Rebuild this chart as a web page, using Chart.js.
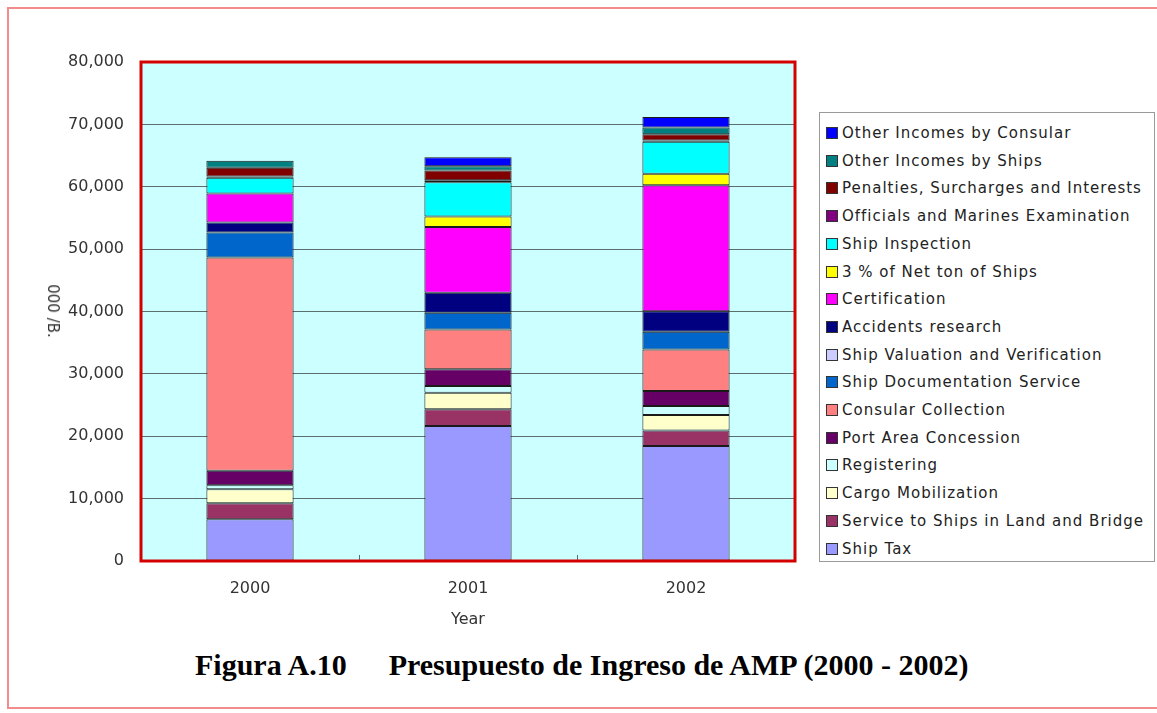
<!DOCTYPE html>
<html>
<head>
<meta charset="utf-8">
<script src="https://cdn.jsdelivr.net/npm/chart.js@4.4.1/dist/chart.umd.min.js"></script>
<style>
  html, body { margin: 0; padding: 0; background: #fff; }
  body { width: 1157px; height: 713px; position: relative; overflow: hidden; }
  #frame { position: absolute; left: 7px; top: 7px; width: 1160px; height: 702px;
           border: 2px solid #f28c8c; box-sizing: border-box; }
  #wrap { position: absolute; left: 0; top: 0; width: 1157px; height: 640px; }
  #ytitle { position: absolute; left: 53px; top: 311px; transform: translate(-50%, -50%) rotate(90deg);
            font: 15px "DejaVu Sans"; color: #333; white-space: nowrap; }
  #legend { position: absolute; left: 819px; top: 112px; width: 336px; height: 450px;
            border: 1px solid #9a9a9a; box-sizing: border-box; background: #fff; }
  .item { position: absolute; left: 6px; height: 20px; font: 15px "DejaVu Sans"; color: #222;
          letter-spacing: 1px; white-space: nowrap; line-height: 20px; }
  .item span.box { display: inline-block; width: 10px; height: 10px; border: 1px solid #333;
                   margin-right: 4px; vertical-align: -1px; }
  #caption { position: absolute; left: 195px; top: 648px; font: bold 30px "Liberation Serif"; color: #000;
             white-space: nowrap; }
  #caption .gap { display: inline-block; width: 42px; }
</style>
</head>
<body>
<div id="frame"></div>
<div id="wrap"><canvas id="chart"></canvas></div>
<div id="ytitle">000 /B.</div>
<div id="legend"></div>
<div id="caption">Figura A.10<span class="gap"></span>Presupuesto de Ingreso de AMP (2000 - 2002)</div>
<script>
// DATA (000 B/.)
const years = ["2000", "2001", "2002"];
const yTicks = [0, 10000, 20000, 30000, 40000, 50000, 60000, 70000, 80000];

const shipTax          = [6700, 21650, 18430];
const serviceToShips   = [2550, 2670, 2510];
const cargoMobil       = [2250, 2670, 2460];
const registering      = [650, 1070, 1440];
const portArea         = [2300, 2670, 2400];
const consular         = [34200, 6400, 6680];
const shipDocs         = [4000, 2670, 2830];
const shipValuation    = [0, 0, 0];
const accidents        = [1600, 3200, 3310];
const certification    = [4650, 10530, 20200];
const netTon           = [0, 1700, 1820];
const shipInspection   = [2550, 5500, 5130];
const officials        = [200, 300, 200];
const penalties        = [1400, 1570, 1000];
const otherShips       = [1100, 700, 1070];
const otherConsular    = [0, 1440, 1710];

// stack order, bottom to top
const seriesNames = [
  "Ship Tax", "Service to Ships in Land and Bridge", "Cargo Mobilization", "Registering",
  "Port Area Concession", "Consular Collection", "Ship Documentation Service",
  "Ship Valuation and Verification", "Accidents research", "Certification",
  "3 % of Net ton of Ships", "Ship Inspection", "Officials and Marines Examination",
  "Penalties, Surcharges and Interests", "Other Incomes by Ships", "Other Incomes by Consular"
];
const seriesValues = [
  shipTax, serviceToShips, cargoMobil, registering, portArea, consular, shipDocs,
  shipValuation, accidents, certification, netTon, shipInspection, officials,
  penalties, otherShips, otherConsular
];
const seriesColors = [
  "#9999ff", "#993366", "#ffffcc", "#ccffff", "#660066", "#ff8080", "#0066cc",
  "#ccccff", "#000080", "#ff00ff", "#ffff00", "#00ffff", "#800080",
  "#800000", "#008080", "#0000ff"
];

const datasets = seriesNames.map((name, i) => ({
  label: name,
  data: seriesValues[i],
  backgroundColor: seriesColors[i],
  borderColor: "#1a1a1a",
  borderWidth: 1,
  borderSkipped: false,
  categoryPercentage: 1.0,
  barPercentage: 0.4
}));

// plot background, red frame and small inner ticks between categories
const plotFrame = {
  id: "plotFrame",
  beforeDraw(chart) {
    const a = chart.chartArea, ctx = chart.ctx;
    ctx.save();
    ctx.fillStyle = "#ccffff";
    ctx.fillRect(a.left, a.top, a.right - a.left, a.bottom - a.top);
    ctx.restore();
  },
  afterDraw(chart) {
    const a = chart.chartArea, ctx = chart.ctx, x = chart.scales.x;
    ctx.save();
    ctx.strokeStyle = "#5a6e6e";
    ctx.lineWidth = 1;
    for (let i = 0; i < years.length - 1; i++) {
      const px = Math.round((x.getPixelForValue(i) + x.getPixelForValue(i + 1)) / 2) + 0.5;
      ctx.beginPath();
      ctx.moveTo(px, a.bottom);
      ctx.lineTo(px, a.bottom - 6);
      ctx.stroke();
    }
    ctx.strokeStyle = "#d40000";
    ctx.lineWidth = 3;
    ctx.strokeRect(a.left, a.top, a.right - a.left, a.bottom - a.top);
    ctx.restore();
  }
};

new Chart(document.getElementById("chart"), {
  type: "bar",
  data: { labels: years, datasets: datasets },
  options: {
    responsive: true,
    maintainAspectRatio: false,
    animation: false,
    layout: { padding: { left: 41, top: 62, right: 362, bottom: 0 } },
    plugins: { legend: { display: false }, tooltip: { enabled: false } },
    scales: {
      x: {
        stacked: true,
        afterFit: s => { s.height = 79; },
        grid: { display: false, drawTicks: false },
        border: { display: false },
        ticks: { padding: 18, color: "#333", font: { family: "DejaVu Sans", size: 16 } },
        title: { display: true, text: "Year", color: "#333", padding: { top: 0, bottom: 11 },
                 font: { family: "DejaVu Sans", size: 16 } }
      },
      y: {
        stacked: true,
        min: 0,
        max: 80000,
        afterFit: s => { s.width = 100; },
        afterBuildTicks: s => { s.ticks = yTicks.map(v => ({ value: v })); },
        grid: { color: "#5a6e6e", lineWidth: 1, drawTicks: false },
        border: { display: false },
        ticks: { padding: 17, color: "#333", font: { family: "DejaVu Sans", size: 16 },
                 callback: v => v.toLocaleString("en-US") }
      }
    }
  },
  plugins: [plotFrame]
});

// legend, top item = top of the stack
const legend = document.getElementById("legend");
for (let k = 0; k < seriesNames.length; k++) {
  const i = seriesNames.length - 1 - k;
  const el = document.createElement("div");
  el.className = "item";
  el.style.top = (10 + k * 27.7) + "px";
  el.innerHTML = '<span class="box" style="background:' + seriesColors[i] + '"></span>' + seriesNames[i];
  legend.appendChild(el);
}
</script>
</body>
</html>
